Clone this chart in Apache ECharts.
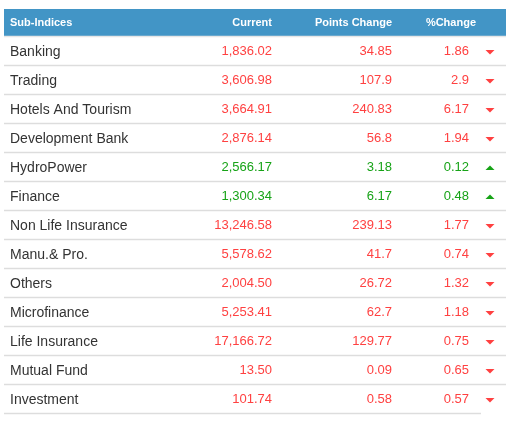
<!DOCTYPE html>
<html>
<head>
<meta charset="utf-8">
<script src="https://cdn.jsdelivr.net/npm/echarts@6/dist/echarts.min.js"></script>
<style>
  html, body { margin: 0; padding: 0; background: #fff; }
  #main { width: 515px; height: 423px; }
</style>
</head>
<body>
<div id="main"></div>
<script>
// 表头
var columns = ['Sub-Indices', 'Current', 'Points Change', '%Change'];

// 各行数据（涨跌为带符号数值，表中显示绝对值）
var names = ['Banking', 'Trading', 'Hotels And Tourism', 'Development Bank', 'HydroPower', 'Finance',
  'Non Life Insurance', 'Manu.& Pro.', 'Others', 'Microfinance', 'Life Insurance', 'Mutual Fund', 'Investment'];
var current = [1836.02, 3606.98, 3664.91, 2876.14, 2566.17, 1300.34, 13246.58, 5578.62, 2004.50, 5253.41, 17166.72, 13.50, 101.74];
var pointsChange = [-34.85, -107.9, -240.83, -56.8, 3.18, 6.17, -239.13, -41.7, -26.72, -62.7, -129.77, -0.09, -0.58];
var pctChange = [-1.86, -2.9, -6.17, -1.94, 0.12, 0.48, -1.77, -0.74, -1.32, -1.18, -0.75, -0.65, -0.57];

var RED = '#ff4141';
var GREEN = '#17a317';
var FONT = '13px "Liberation Sans", Arial, sans-serif';
var NAME_FONT = '14px "Liberation Sans", Arial, sans-serif';
var HEAD_FONT = 'bold 11px "Liberation Sans", Arial, sans-serif';

var chart = echarts.init(document.getElementById('main'));

function fmtCurrent(v) {
  return v.toLocaleString('en-US', { minimumFractionDigits: 2, maximumFractionDigits: 2 });
}

function renderRow(params, api) {
  var i = params.dataIndex;
  var cs = params.coordSys;
  var y = api.coord([0, i])[1];
  var h = api.size([0, 1])[1];
  var up = pointsChange[i] > 0;
  var color = up ? GREEN : RED;
  var left = cs.x;
  var children = [];

  children.push({ type: 'text', style: { text: names[i], x: left + 6, y: y + 0.5, align: 'left', verticalAlign: 'middle', fill: '#333', font: NAME_FONT } });
  children.push({ type: 'text', style: { text: fmtCurrent(current[i]), x: left + 268, y: y, align: 'right', verticalAlign: 'middle', fill: color, font: FONT } });
  children.push({ type: 'text', style: { text: String(Math.abs(pointsChange[i])), x: left + 388, y: y, align: 'right', verticalAlign: 'middle', fill: color, font: FONT } });
  children.push({ type: 'text', style: { text: String(Math.abs(pctChange[i])), x: left + 465, y: y, align: 'right', verticalAlign: 'middle', fill: color, font: FONT } });

  // 箭头
  var ax = left + 486;
  var pts = up
    ? [[ax - 4.5, y + 2.5], [ax + 4.5, y + 2.5], [ax, y - 2]]
    : [[ax - 4.5, y - 1.5], [ax + 4.5, y - 1.5], [ax, y + 3]];
  children.push({ type: 'polygon', shape: { points: pts }, style: { fill: color } });

  // 行分隔线
  var lineEnd = i === names.length - 1 ? left + 477 : left + cs.width;
  var by = Math.round(y + h / 2) - 0.5;
  children.push({ type: 'line', shape: { x1: left, y1: by, x2: lineEnd, y2: by }, style: { stroke: '#dddddd', lineWidth: 1.5 } });
  if (i === 0) {
    var ty = Math.round(y - h / 2) - 0.5;
    children.push({ type: 'line', shape: { x1: left, y1: ty, x2: left + cs.width, y2: ty }, style: { stroke: '#e6e6e6', lineWidth: 1.5 } });
  }
  return { type: 'group', children: children };
}

var headX = [10, 272, 392, 476];
var headAlign = ['left', 'right', 'right', 'right'];

var option = {
  animation: false,
  grid: { left: 4, right: 9, top: 37, bottom: 9 },
  xAxis: { type: 'value', min: 0, max: 1, show: false },
  yAxis: { type: 'category', data: names, inverse: true, show: false },
  graphic: [
    { type: 'rect', left: 4, top: 9, shape: { width: 502, height: 28 }, style: { fill: '#4295c6' }, z: 0 }
  ].concat(columns.map(function (c, k) {
    return {
      type: 'text', z: 1,
      style: { text: c, x: headX[k], y: 23, align: headAlign[k], verticalAlign: 'middle', fill: '#fff', font: HEAD_FONT }
    };
  })),
  series: [{
    type: 'custom',
    renderItem: renderRow,
    clip: false,
    data: names.map(function (n, i) { return [0, i]; })
  }]
};

chart.setOption(option);
</script>
</body>
</html>
